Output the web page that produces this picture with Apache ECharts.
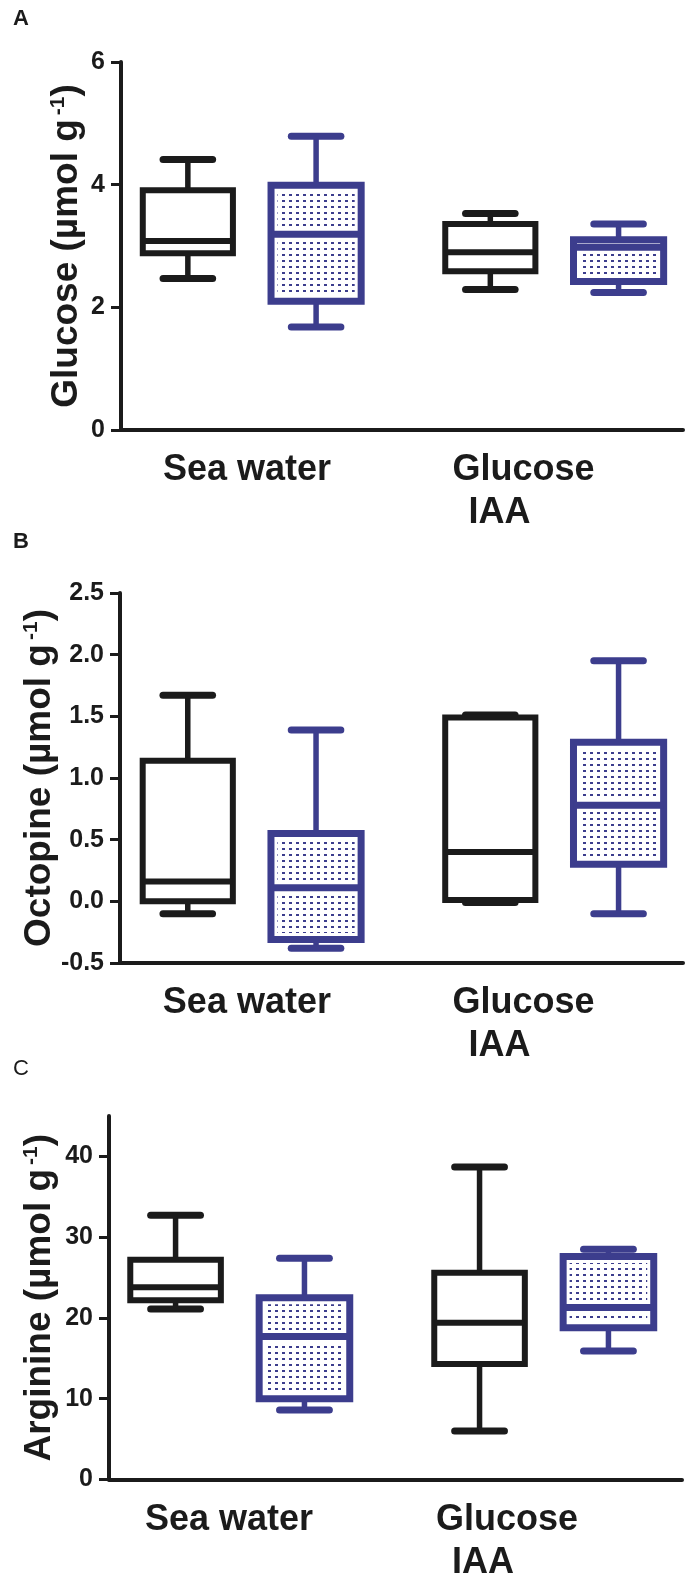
<!DOCTYPE html>
<html><head><meta charset="utf-8">
<script src="https://cdn.jsdelivr.net/npm/echarts@6/dist/echarts.min.js"></script>
<style>html,body{margin:0;padding:0;background:#fff}#c{width:690px;height:1581px}</style>
</head><body><div id="c"></div>
<script>
// ---------- data ----------
const categories = ['Sea water', 'Glucose\nIAA'];
const panelLetters = ['A', 'B', 'C'];
const yTitles = ['Glucose', 'Octopine', 'Arginine'];
const unitText = ' (µmol g';
// each box: [min, Q1, median, Q3, max], one per category
const glucoseBlack = [[2.47, 2.88, 3.08, 3.91, 4.41], [2.29, 2.59, 2.90, 3.36, 3.53]];
const glucoseBlue  = [[1.68, 2.10, 3.19, 3.99, 4.79], [2.24, 2.42, 2.98, 3.10, 3.36]];
const octopineBlack = [[-0.10, 0.00, 0.16, 1.14, 1.67], [-0.01, 0.01, 0.40, 1.49, 1.51]];
const octopineBlue  = [[-0.38, -0.31, 0.11, 0.55, 1.39], [-0.10, 0.30, 0.78, 1.29, 1.95]];
const arginineBlack = [[21.1, 22.2, 23.8, 27.2, 32.7], [6.0, 14.3, 19.4, 25.6, 38.7]];
const arginineBlue  = [[8.6, 10.0, 17.7, 22.5, 27.4], [15.9, 18.8, 21.3, 27.6, 28.5]];
// y axis ranges [min, max, interval] and tick values
const yRanges = [[0, 6, 2], [-0.5, 2.5, 0.5], [0, 45, 10]];
const yTicks = [[0, 2, 4, 6], [-0.5, 0, 0.5, 1, 1.5, 2, 2.5], [0, 10, 20, 30, 40]];

// ---------- style ----------
const BLACK = '#1b1b1b';
const BLUE = '#3c3d8d';
const FONT = '"Liberation Sans", Arial, sans-serif';

const pc = document.createElement('canvas');
pc.width = 7; pc.height = 6;
const pctx = pc.getContext('2d');
pctx.fillStyle = '#fff'; pctx.fillRect(0, 0, 7, 6);
pctx.fillStyle = BLUE; pctx.fillRect(2, 2, 3, 2);
const dotPattern = { image: pc, repeat: 'repeat' };

function makeRender(side, color, patterned) {
  return function (params, api) {
    const idx = api.value(0);
    const unit = api.size([1, 0])[0];
    const cx = api.coord([idx, 0])[0] + side * unit * 0.212;
    const w = unit * 0.298;
    const cap = w * 0.55;
    const yv = k => api.coord([idx, api.value(k)])[1];
    const yMin = yv(1), yQ1 = yv(2), yMed = yv(3), yQ3 = yv(4), yMax = yv(5);
    const lw = patterned ? 7 : 6;
    const line = (x1, y1, x2, y2, width, stroke, cap_) => ({
      type: 'line', shape: { x1, y1, x2, y2 },
      style: { stroke: stroke || color, lineWidth: width, lineCap: cap_ || 'butt' }
    });
    const ch = [
      line(cx, yMax, cx, yQ3, 5.5),
      line(cx, yQ1, cx, yMin, 5.5),
      line(cx - cap / 2, yMax, cx + cap / 2, yMax, 7, color, 'round'),
      line(cx - cap / 2, yMin, cx + cap / 2, yMin, 7, color, 'round'),
      { type: 'rect', shape: { x: cx - w / 2, y: yQ3, width: w, height: yQ1 - yQ3 }, style: { fill: '#fff' } }
    ];
    if (patterned) {
      const inset = lw / 2 + 3;
      const h = yQ1 - yQ3 - 2 * inset;
      if (h > 0) ch.push({ type: 'rect', shape: { x: cx - w / 2 + inset, y: yQ3 + inset, width: w - 2 * inset, height: h }, style: { fill: dotPattern } });
      ch.push(line(cx - w / 2, yMed, cx + w / 2, yMed, lw + 6, '#fff'));
    }
    ch.push({ type: 'rect', shape: { x: cx - w / 2, y: yQ3, width: w, height: yQ1 - yQ3 }, style: { fill: 'none', stroke: color, lineWidth: lw } });
    ch.push(line(cx - w / 2, yMed, cx + w / 2, yMed, lw));
    return { type: 'group', children: ch };
  };
}

const grids = [
  { left: 121, top: 62, width: 562, height: 368 },
  { left: 120, top: 593, width: 563, height: 370 },
  { left: 109, top: 1116, width: 573, height: 371 }
];
const xExt = [[-0.433, 1.425], [-0.436, 1.425], [-0.431, 1.454]];
const nameGaps = [36, 62, 51];
const labelShift = [0, 0, 12];

const labelStyle = { fontSize: 36, fontWeight: 'bold', fontFamily: FONT, color: BLACK, lineHeight: 43 };
const xAxes = grids.map((g, i) => ({
  type: 'value', gridIndex: i, min: xExt[i][0], max: xExt[i][1],
  splitLine: { show: false },
  axisLine: { onZero: false, lineStyle: { color: BLACK, width: 4 } },
  axisTick: { show: false },
  axisLabel: {
    customValues: categories.map((c, k) => k),
    margin: 19, color: BLACK,
    formatter: v => {
      const lines = categories[Math.round(v)].split('\n');
      if (lines.length === 1) return '{a|' + lines[0] + '}';
      return '{g|' + lines[0] + '}\n{i|' + lines[1] + '}';
    },
    rich: {
      a: Object.assign({}, labelStyle, { padding: [0, 10 + labelShift[i], 0, 0] }),
      g: Object.assign({}, labelStyle, { padding: [0, 62 + labelShift[i], 0, 0] }),
      i: Object.assign({}, labelStyle, { padding: [0, 110 + labelShift[i], 0, 0] })
    }
  }
}));

const yAxes = grids.map((g, i) => ({
  type: 'value', gridIndex: i, min: yRanges[i][0], max: yRanges[i][1], interval: yRanges[i][2],
  splitLine: { show: false },
  axisLine: { onZero: false, lineStyle: { color: BLACK, width: 4 } },
  axisTick: { customValues: yTicks[i], length: 10, lineStyle: { color: BLACK, width: 3 } },
  axisLabel: {
    customValues: yTicks[i], margin: 16, color: BLACK, fontSize: 25, fontWeight: 'bold', fontFamily: FONT,
    formatter: v => (i === 1 ? v.toFixed(1) : String(v))
  },
  name: yTitles[i] + unitText + '{sup|-1})',
  nameLocation: 'middle', nameGap: nameGaps[i], nameMoveOverlap: false,
  nameTextStyle: {
    fontSize: 37, fontWeight: 'bold', fontFamily: FONT, color: BLACK,
    rich: { sup: { fontSize: 21, fontWeight: 'bold', fontFamily: FONT, color: BLACK, verticalAlign: 'top', padding: [0, 0, 12, 4] } }
  }
}));

const panelData = [[glucoseBlack, glucoseBlue], [octopineBlack, octopineBlue], [arginineBlack, arginineBlue]];
const series = [];
panelData.forEach((pair, i) => {
  pair.forEach((boxes, s) => {
    series.push({
      type: 'custom', name: s === 0 ? 'black' : 'blue',
      xAxisIndex: i, yAxisIndex: i,
      encode: { x: 0, y: [1, 2, 3, 4, 5] },
      data: boxes.map((b, k) => [k].concat(b)),
      renderItem: makeRender(s === 0 ? -1 : 1, s === 0 ? BLACK : BLUE, s === 1)
    });
  });
});

const letterPos = [[13, 8], [13, 531], [13, 1058]];
const chart = echarts.init(document.getElementById('c'), null, { renderer: 'canvas' });
chart.setOption({
  animation: false,
  backgroundColor: '#fff',
  grid: grids,
  xAxis: xAxes,
  yAxis: yAxes,
  series: series,
  graphic: panelLetters.map((t, i) => ({
    type: 'text', left: letterPos[i][0], top: letterPos[i][1],
    style: { text: t, fontSize: 22, fontWeight: i === 2 ? 'normal' : 'bold', fontFamily: FONT, fill: BLACK }
  }))
});
</script></body></html>
